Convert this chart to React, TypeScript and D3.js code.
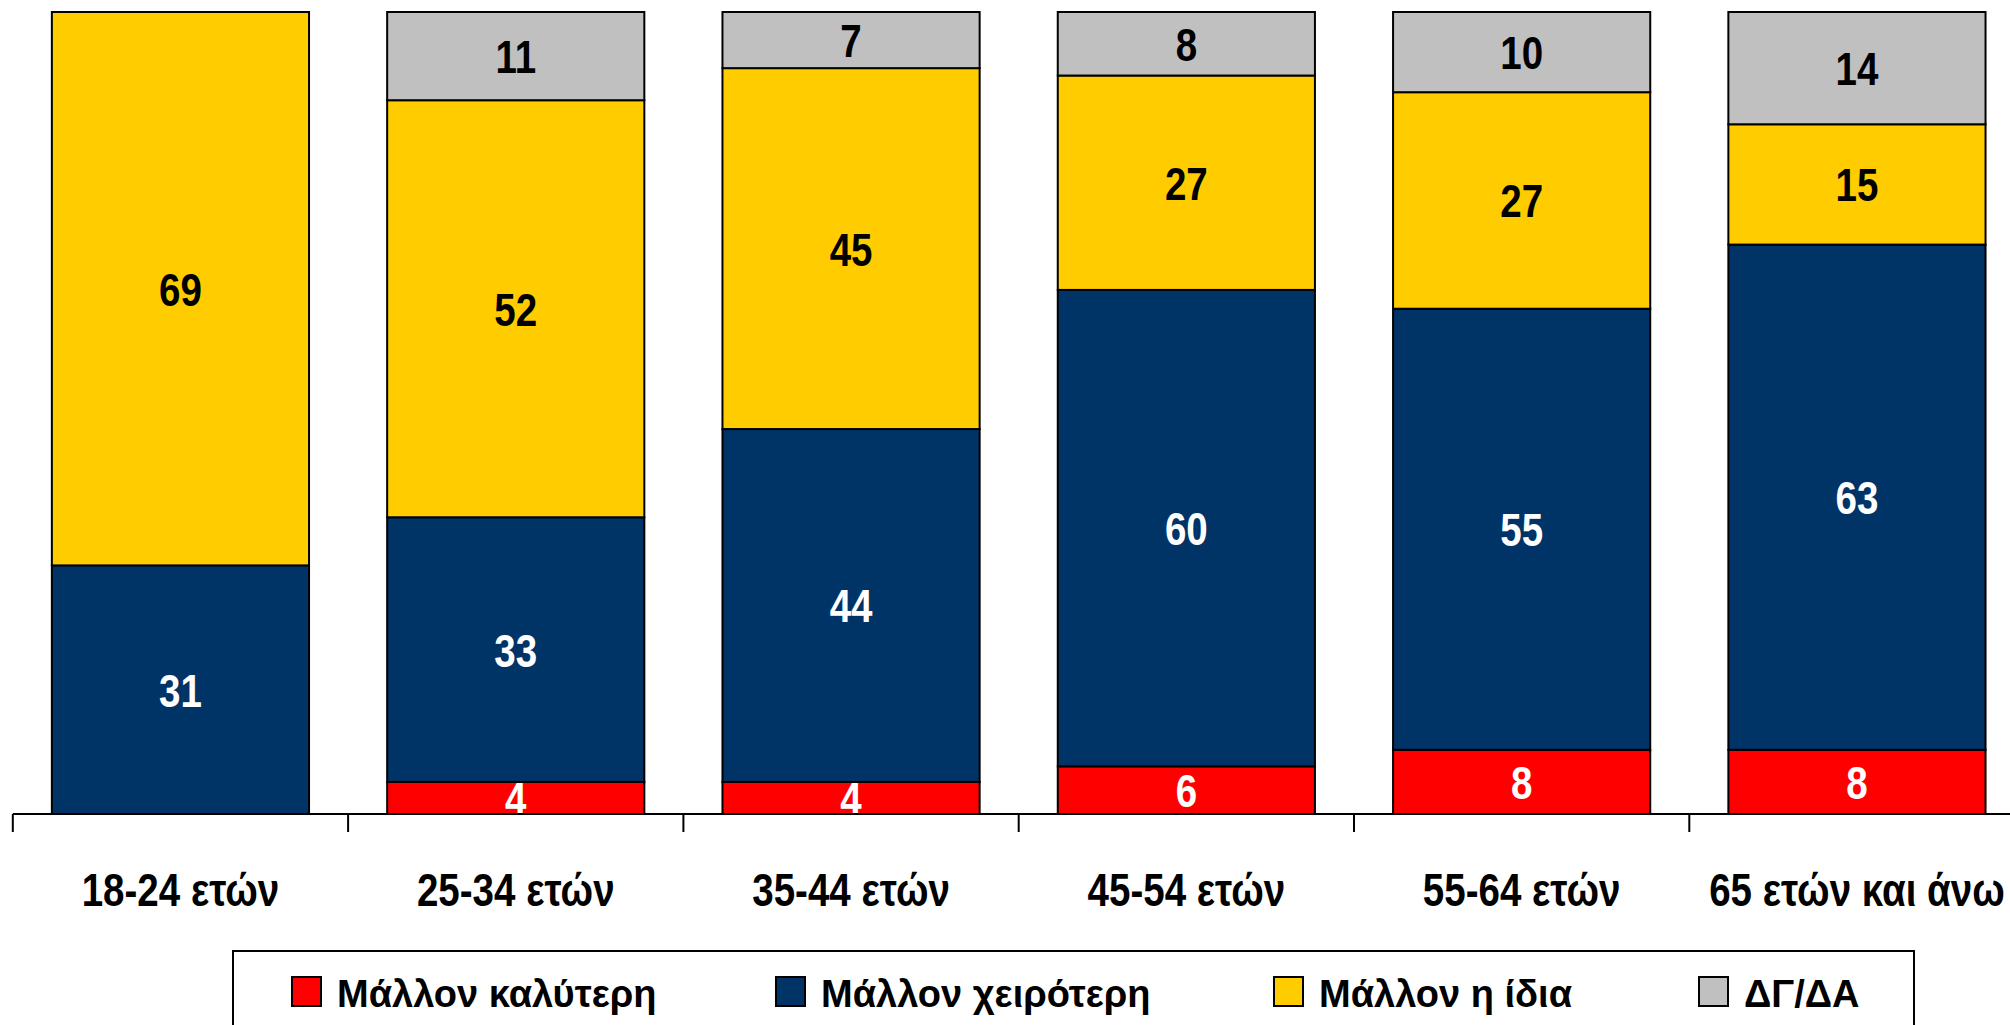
import React, { useEffect, useRef } from 'react';
import * as d3 from 'd3';

// age groups
const categories = ['18-24 ετών', '25-34 ετών', '35-44 ετών', '45-54 ετών', '55-64 ετών', '65 ετών και άνω'];

// series values (%)
const better = [0, 4, 4, 6, 8, 8];
const worse = [31, 33, 44, 60, 55, 63];
const same = [69, 52, 45, 27, 27, 15];
const dkna = [0, 11, 7, 8, 10, 14];

const seriesNames = ['Μάλλον καλύτερη', 'Μάλλον χειρότερη', 'Μάλλον η ίδια', 'ΔΓ/ΔΑ'];
const seriesKeys = ['better', 'worse', 'same', 'dkna'];
const colors = ['#FF0000', '#003366', '#FFCC00', '#C0C0C0'];
const labelColors = ['#FFFFFF', '#FFFFFF', '#000000', '#000000'];

// no narrow font installed -> squeeze Liberation Sans horizontally like Arial Narrow
const FONT = "'Liberation Sans', Arial, sans-serif";
const NARROW = 0.82;

const App = () => {
  const ref = useRef<SVGGElement | null>(null);
  const width = 2010;
  const height = 1025;

  useEffect(() => {
    const g = d3.select(ref.current);
    g.selectAll('*').remove();

    const rows = categories.map((c, i) => ({
      cat: c,
      better: better[i],
      worse: worse[i],
      same: same[i],
      dkna: dkna[i],
    }));

    const stack = d3.stack<any>().keys(seriesKeys).offset(d3.stackOffsetExpand);
    const layers = stack(rows);

    const x = d3.scaleBand()
      .domain(categories)
      .range([12.8, 2024.6])
      .paddingInner(0.233)
      .paddingOuter(0.1165);

    const y = d3.scaleLinear().domain([0, 1]).range([814, 12]);

    // bars
    const layer = g.selectAll('.layer')
      .data(layers)
      .enter()
      .append('g')
      .attr('class', 'layer')
      .attr('fill', (d, i) => colors[i]);

    layer.selectAll('rect')
      .data(d => d)
      .enter()
      .append('rect')
      .attr('x', d => x(d.data.cat) as number)
      .attr('width', x.bandwidth())
      .attr('y', d => y(d[1]))
      .attr('height', d => y(d[0]) - y(d[1]))
      .attr('stroke', '#000')
      .attr('stroke-width', 2);

    // value labels
    layers.forEach((l, li) => {
      g.append('g')
        .selectAll('text')
        .data(l.filter(d => (d.data as any)[seriesKeys[li]] > 0))
        .enter()
        .append('text')
        .attr('transform', d =>
          `translate(${(x(d.data.cat) as number) + x.bandwidth() / 2},${(y(d[0]) + y(d[1])) / 2}) scale(${NARROW},1)`)
        .attr('dy', '0.36em')
        .attr('text-anchor', 'middle')
        .attr('font-family', FONT)
        .attr('font-weight', 'bold')
        .attr('font-size', 47)
        .attr('fill', labelColors[li])
        .text(d => (d.data as any)[seriesKeys[li]]);
    });

    // x axis
    const step = x.step();
    const axisLeft = 12.8;
    g.append('line')
      .attr('x1', axisLeft)
      .attr('x2', width)
      .attr('y1', y(0))
      .attr('y2', y(0))
      .attr('stroke', '#000')
      .attr('stroke-width', 2);

    g.selectAll('.tick')
      .data(categories)
      .enter()
      .append('line')
      .attr('class', 'tick')
      .attr('x1', (d, i) => axisLeft + i * step)
      .attr('x2', (d, i) => axisLeft + i * step)
      .attr('y1', y(0))
      .attr('y2', y(0) + 18)
      .attr('stroke', '#000')
      .attr('stroke-width', 2);

    g.selectAll('.cat')
      .data(categories)
      .enter()
      .append('text')
      .attr('class', 'cat')
      .attr('transform', d => `translate(${(x(d) as number) + x.bandwidth() / 2},906) scale(${NARROW},1)`)
      .attr('text-anchor', 'middle')
      .attr('font-family', FONT)
      .attr('font-weight', 'bold')
      .attr('font-size', 47)
      .attr('fill', '#000')
      .text(d => d);

    // legend
    g.append('rect')
      .attr('x', 233)
      .attr('y', 951)
      .attr('width', 1681)
      .attr('height', 120)
      .attr('fill', '#fff')
      .attr('stroke', '#000')
      .attr('stroke-width', 2);

    const legendX = [292, 776, 1274, 1699];
    const item = g.selectAll('.legend')
      .data(seriesNames)
      .enter()
      .append('g')
      .attr('class', 'legend')
      .attr('transform', (d, i) => `translate(${legendX[i]},977)`);

    item.append('rect')
      .attr('width', 29)
      .attr('height', 29)
      .attr('fill', (d, i) => colors[i])
      .attr('stroke', '#000')
      .attr('stroke-width', 2);

    item.append('text')
      .attr('x', 45)
      .attr('y', 30)
      .attr('font-family', FONT)
      .attr('font-weight', 'bold')
      .attr('font-size', 38)
      .attr('fill', '#000')
      .text(d => d);
  });

  return (
    <div style={{ position: 'absolute', left: 0, top: 0 }}>
      <svg width={width} height={height} style={{ display: 'block', background: '#fff' }}>
        <g ref={ref} />
      </svg>
    </div>
  );
};

export default App;
